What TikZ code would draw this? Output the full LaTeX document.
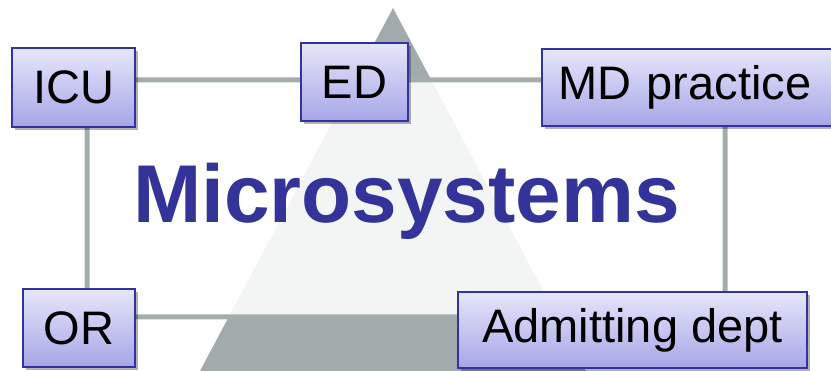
\documentclass[tikz,border=0pt]{standalone}
\usepackage{fontspec}
\setmainfont{Liberation Sans}
\usetikzlibrary{shadows}
\definecolor{tridark}{RGB}{161,171,171}
\definecolor{trilight}{RGB}{243,245,245}
\definecolor{connc}{RGB}{163,173,173}
\definecolor{boxtop}{RGB}{230,230,250}
\definecolor{boxbot}{RGB}{166,166,232}
\definecolor{boxedge}{RGB}{50,50,160}
\definecolor{titlec}{RGB}{51,51,153}
\tikzset{
  unitbox/.style={draw=boxedge, line width=1.5pt, top color=boxtop, bottom color=boxbot,
    drop shadow={shadow xshift=3pt, shadow yshift=-3pt, opacity=0.3, fill=black},
    inner sep=0pt, font=\fontsize{47}{47}\selectfont, text=black},
  conn/.style={draw=connc, line width=5pt, rounded corners=18pt},
}
\begin{document}
\begin{tikzpicture}[x=1pt,y=-1pt]
\useasboundingbox (0,0) rectangle (831,371);
% triangle bands
\begin{scope}
  \clip (393,8) -- (586,371) -- (200,371) -- cycle;
  \fill[tridark] (0,0) rectangle (831,80);
  \fill[trilight] (0,80) rectangle (831,317);
  \fill[tridark] (0,317) rectangle (831,371);
\end{scope}
% connector loop
\coordinate (ctl) at (87,80);
\coordinate (ctr) at (725,80);
\coordinate (cbr) at (725,317);
\coordinate (cbl) at (87,317);
\draw[conn] (ctl) -- (ctr) -- (cbr) -- (cbl) -- cycle;
% title
\node[anchor=base, text=titlec, font=\fontsize{82}{82}\selectfont\bfseries, inner sep=0pt] (title) at (406.5,223) {Microsystems};
% boxes
\node[unitbox, minimum width=123pt, minimum height=79pt] (icu) at (73.5,87.5) {ICU};
\node[unitbox, minimum width=107pt, minimum height=78pt] (ed) at (354.5,82) {ED};
\node[unitbox, minimum width=292pt, minimum height=77pt, text width=284pt, align=left] (md) at (688,87.5) {\hspace{12pt}MD practice};
\node[unitbox, minimum width=112pt, minimum height=78pt] (or) at (79,328) {OR};
\node[unitbox, minimum width=349pt, minimum height=76pt] (adm) at (632.5,330) {Admitting dept};
\end{tikzpicture}
\end{document}
